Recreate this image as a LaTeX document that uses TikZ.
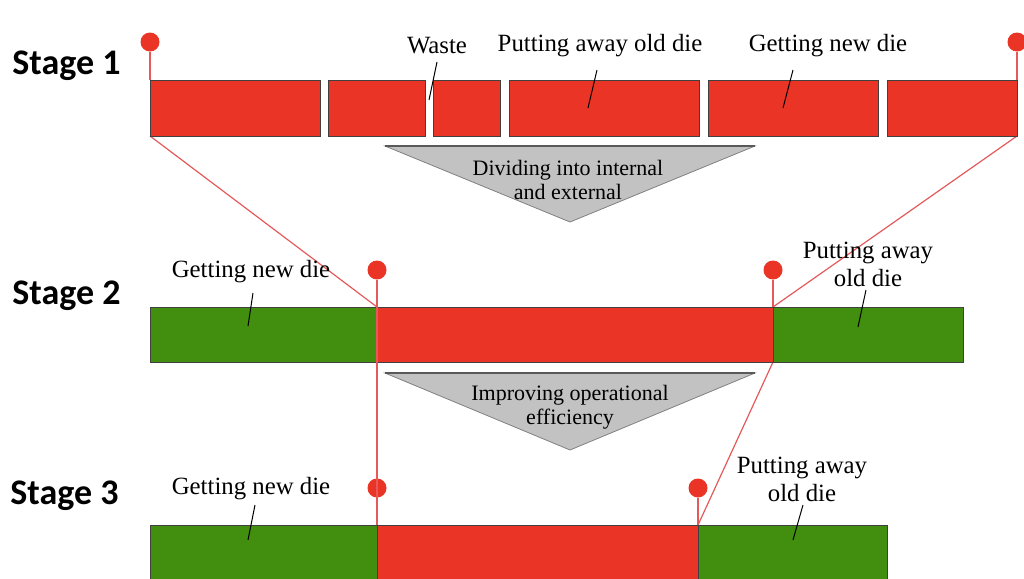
\documentclass[tikz,border=0pt]{standalone}
\usepackage{fontspec}
\setmainfont{Liberation Serif}
\newfontfamily\stagefont{Carlito}
\definecolor{diered}{RGB}{233,52,38}
\definecolor{diegreen}{RGB}{66,142,14}
\definecolor{trigray}{RGB}{194,194,194}
\definecolor{pinred}{RGB}{228,90,90}
\tikzstyle{seg}=[draw=black!75, line width=0.4pt]
\tikzstyle{lbl}=[font=\fontsize{12.4}{14}\selectfont, inner sep=1pt, align=center]
\tikzstyle{trilbl}=[font=\fontsize{11}{12}\selectfont, inner sep=1pt, align=center]
\tikzstyle{stage}=[font=\stagefont\bfseries\fontsize{18}{20}\selectfont, anchor=west, inner sep=0pt]
\tikzstyle{pin}=[circle, fill=diered, inner sep=0pt, minimum size=9.5pt]
\tikzstyle{pinline}=[draw=pinred, line width=0.6pt]
\tikzstyle{leader}=[draw=black, line width=0.5pt]
\tikzstyle{tri}=[fill=trigray, draw=gray, line width=0.4pt]
\tikzstyle{triedge}=[draw=gray!70!black, line width=1.2pt]

\begin{document}
\begin{tikzpicture}[x=0.5pt, y=-0.5pt]
	\useasboundingbox (0,0) rectangle (1024,579);

	% stage names
	\node[stage] (st1) at (12,66) {Stage 1};
	\node[stage] (st2) at (12,296) {Stage 2};
	\node[stage] (st3) at (10,496) {Stage 3};

	% bar corners used by the connectors
	\coordinate (b1l) at (150,136);
	\coordinate (b1r) at (1017,136);
	\coordinate (b2l) at (377,307);
	\coordinate (b2r) at (773,307);
	\coordinate (b2rb) at (773,362);
	\coordinate (b3l) at (377,525);
	\coordinate (b3r) at (698,525);

	% connectors
	\draw[pinline] (b1l) -- (b2l);
	\draw[pinline] (b1r) -- (b2r);
	\draw[pinline] (b2rb) -- (b3r);

	% stage 1
	\foreach \a/\b in {150/320, 328/425, 433/500, 509/699, 708/878, 887/1017}
		\draw[seg, fill=diered] (\a,80) rectangle (\b,136);

	% stage 2
	\draw[seg, fill=diegreen] (150,307) rectangle (377,362);
	\draw[seg, fill=diered] (377,307) rectangle (773,362);
	\draw[seg, fill=diegreen] (773,307) rectangle (963,362);

	% stage 3
	\draw[seg, fill=diegreen] (150,525) rectangle (377,600);
	\draw[seg, fill=diered] (377,525) rectangle (698,600);
	\draw[seg, fill=diegreen] (698,525) rectangle (887,600);

	% pins
	\node[pin] (p1l) at (150,42) {};
	\node[pin] (p1r) at (1017,42) {};
	\node[pin] (p2l) at (377,270) {};
	\node[pin] (p2r) at (773,270) {};
	\node[pin] (p3l) at (377,488) {};
	\node[pin] (p3r) at (698,488) {};
	\draw[pinline] (p1l) -- (150,80);
	\draw[pinline] (p1r) -- (1017,80);
	\draw[pinline] (p2l) -- (b3l);
	\draw[pinline] (p2r) -- (b2r);
	\draw[pinline] (p3r) -- (b3r);

	% triangles
	\draw[tri] (385,146) -- (755,146) -- (570,222) -- cycle;
	\draw[triedge] (385,146) -- (755,146);
	\node[trilbl] (div) at (568,180) {Dividing into internal\\and external};
	\draw[tri] (385,373) -- (755,373) -- (570,450) -- cycle;
	\draw[triedge] (385,373) -- (755,373);
	\node[trilbl] (imp) at (570,407) {Improving operational\\efficiency};

	% labels of stage 1
	\node[lbl] (waste) at (437,46) {Waste};
	\node[lbl] (put1) at (600,46) {Putting away old die};
	\node[lbl] (get1) at (828,46) {Getting new die};
	\draw[leader] (437,62) -- (429,100);
	\draw[leader] (597,70) -- (588,108);
	\draw[leader] (793,70) -- (783,108);

	% labels of stage 2
	\node[lbl] (get2) at (251,272) {Getting new die};
	\node[lbl] (put2) at (868,264) {Putting away\\old die};
	\draw[leader] (253,293) -- (248,326);
	\draw[leader] (866,290) -- (858,327);

	% labels of stage 3
	\node[lbl] (get3) at (251,489) {Getting new die};
	\node[lbl] (put3) at (802,479) {Putting away\\old die};
	\draw[leader] (255,505) -- (248,540);
	\draw[leader] (803,505) -- (793,540);
\end{tikzpicture}
\end{document}
